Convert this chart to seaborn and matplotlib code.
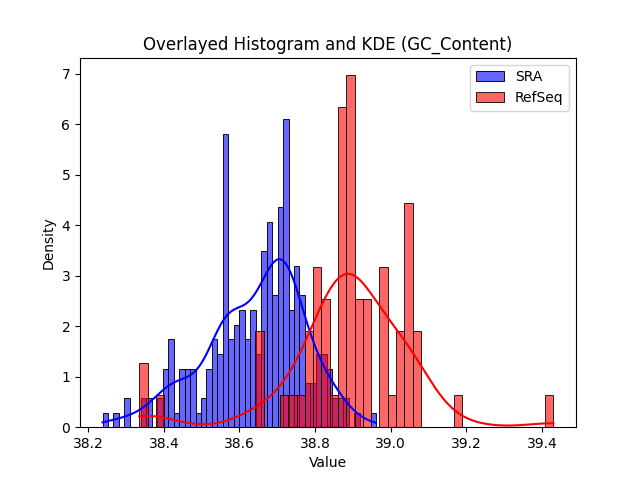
import numpy as np
import seaborn as sns
import matplotlib.pyplot as plt

# GC content values (value, how many samples)
sra_values = [38.238, 38.274, 38.303, 38.347, 38.361, 38.390, 38.404, 38.419,
              38.433, 38.448, 38.462, 38.477, 38.491, 38.506, 38.520, 38.534,
              38.549, 38.563, 38.578, 38.592, 38.607, 38.621, 38.636, 38.650,
              38.665, 38.679, 38.694, 38.708, 38.722, 38.737, 38.751, 38.766,
              38.780, 38.795, 38.809, 38.824, 38.838, 38.853, 38.867, 38.881,
              38.910, 38.961]
sra_counts = [1, 1, 2, 2, 2, 2, 4, 6,
              1, 4, 4, 4, 1, 2, 4, 6,
              5, 20, 6, 7, 8, 6, 8, 5,
              12, 14, 9, 15, 21, 8, 11, 9,
              3, 3, 5, 5, 4, 2, 2, 2,
              1, 1]

refseq_values = [38.335, 38.346, 38.390, 38.653, 38.718, 38.740, 38.762, 38.784,
                 38.806, 38.828, 38.850, 38.872, 38.893, 38.915, 38.937, 38.981,
                 39.003, 39.025, 39.047, 39.069, 39.178, 39.430]
refseq_counts = [1, 1, 1, 3, 1, 1, 1, 3,
                 5, 4, 1, 10, 11, 4, 4, 5,
                 1, 3, 7, 3, 1, 1]

sra = np.repeat(sra_values, sra_counts)
refseq = np.repeat(refseq_values, refseq_counts)

plt.figure(figsize=(6.4, 4.8), dpi=100)
sns.histplot(sra, bins=50, kde=True, stat="density", color="blue", alpha=0.6, label="SRA")
sns.histplot(refseq, bins=50, kde=True, stat="density", color="red", alpha=0.6, label="RefSeq")
plt.title("Overlayed Histogram and KDE (GC_Content)")
plt.xlabel("Value")
plt.ylabel("Density")
plt.legend()
plt.savefig("out.png", dpi=100)
